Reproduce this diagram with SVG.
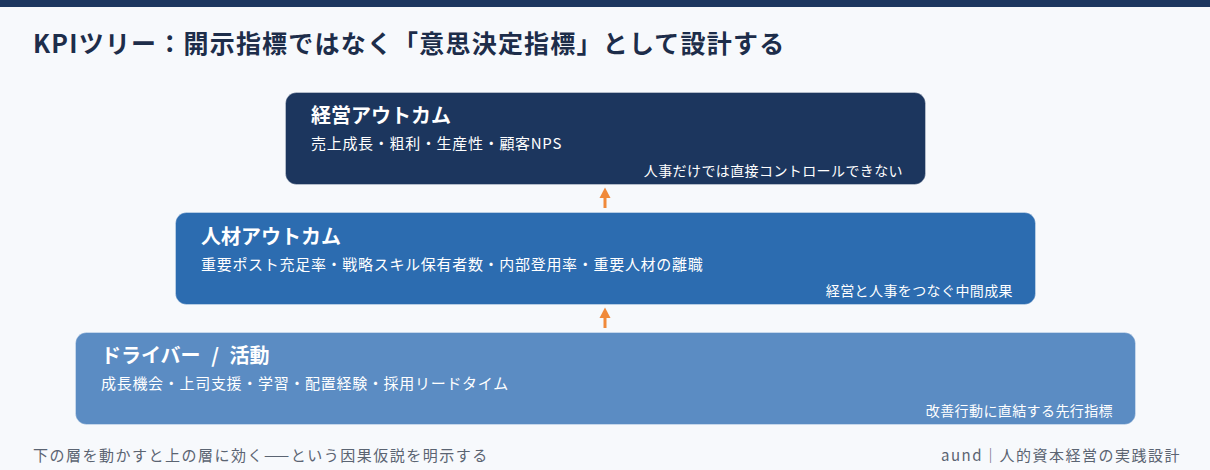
<svg xmlns="http://www.w3.org/2000/svg" width="1210" height="470" viewBox="0 0 1210 470">
<style>
text{font-family:"Noto Sans CJK JP","Noto Sans",sans-serif;}
.h{font-size:20px;font-weight:700;fill:#ffffff;}
.s{font-size:15px;fill:#ffffff;letter-spacing:0.7px;}
.n{font-size:14px;fill:#ffffff;text-anchor:end;letter-spacing:0.4px;}
.f{font-size:15px;fill:#5b6472;letter-spacing:1.5px;}
.box{stroke:#ffffff;stroke-opacity:0.35;stroke-width:1;}
.arr{fill:#f0893a;}
</style>
<rect x="0" y="0" width="1210" height="470" fill="#f7f9fc"/>
<rect x="0" y="0" width="1210" height="7" fill="#1d3760"/>
<text x="33" y="53" font-size="25" font-weight="700" fill="#1d2d4a" letter-spacing="1.2">KPIツリー：開示指標ではなく「意思決定指標」として設計する</text>
<g id="connectors">
<rect class="arr" x="603.5" y="196" width="3" height="12"/>
<polygon class="arr" points="605,187.5 610.5,198 599.5,198"/>
<rect class="arr" x="603.5" y="316" width="3" height="12"/>
<polygon class="arr" points="605,307.5 610.5,318 599.5,318"/>
</g>
<g id="node-keiei">
<rect class="box" x="285.5" y="92.5" width="640" height="92" rx="11" fill="#1c365e"/>
<text class="h" x="311" y="123">経営アウトカム</text>
<text class="s" x="311" y="149">売上成長・粗利・生産性・顧客NPS</text>
<text class="n" x="903" y="176">人事だけでは直接コントロールできない</text>
</g>
<g id="node-jinzai">
<rect class="box" x="175.5" y="212.5" width="860" height="92" rx="11" fill="#2c6cb0"/>
<text class="h" x="201" y="244">人材アウトカム</text>
<text class="s" x="201" y="270">重要ポスト充足率・戦略スキル保有者数・内部登用率・重要人材の離職</text>
<text class="n" x="1013" y="296">経営と人事をつなぐ中間成果</text>
</g>
<g id="node-driver">
<rect class="box" x="75.5" y="332.5" width="1060" height="92" rx="11" fill="#5b8cc3"/>
<text class="h" x="101" y="363" word-spacing="6">ドライバー / 活動</text>
<text class="s" x="101" y="389">成長機会・上司支援・学習・配置経験・採用リードタイム</text>
<text class="n" x="1113" y="416">改善行動に直結する先行指標</text>
</g>
<text class="f" x="33" y="461">下の層を動かすと上の層に効く——という因果仮説を明示する</text>
<text class="f" x="1181" y="461" text-anchor="end">aund｜人的資本経営の実践設計</text>
</svg>
